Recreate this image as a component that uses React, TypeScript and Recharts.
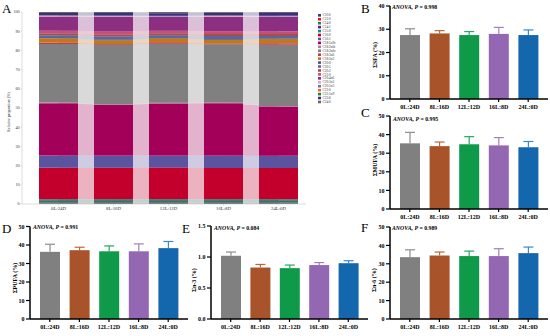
import React from 'react';
import { ComposedChart, BarChart, Bar, Area, XAxis, YAxis } from 'recharts';

const SERIF = '"Liberation Serif", "Times New Roman", serif';

const groups = ['0L:24D', '8L:16D', '12L:12D', '16L:8D', '24L:0D'];

const fattyAcids = [
  'C10:0', 'C12:0', 'C14:0', 'C14:1', 'C15:0', 'C16:0', 'C16:1', 'C18:1n9c',
  'C18:2n6t', 'C18:2n6c', 'C18:3n6', 'C18:3n3', 'C20:0', 'C20:1', 'C20:2',
  'C21:0', 'C20:4n6', 'C20:3n3', 'C20:5n3', 'C22:0', 'C22:1n9', 'C22:6', 'C24:0',
];

const faColors = [
  '#2f3f8f', '#e8131b', '#12894a', '#6a1b8a', '#138a8a', '#c2002b', '#5c539f', '#a3005a',
  '#b07a9a', '#808080', '#c43a52', '#c07818', '#4b5878', '#5865a8', '#a45044',
  '#c4507a', '#8c2f80', '#e2a6c4', '#6a78a8', '#e0701e', '#2c7a3c', '#3e2c8c', '#5e6e5e',
];

// relative proportion (%) per group, in fattyAcids order
const comp0L24D = [0.4, 0.2, 1.2, 0.3, 0.4, 16.4, 6.3, 27.3, 0.3, 30.5, 0.8, 2.2, 0.2, 1.4, 1.0, 1.3, 7.4, 0.3, 0.2, 0.1, 0.1, 1.2, 0.5];
const comp8L16D = [0.4, 0.2, 1.2, 0.3, 0.4, 16.4, 6.4, 26.2, 0.3, 31.2, 0.3, 2.0, 0.3, 1.6, 1.0, 1.6, 7.6, 0.4, 0.2, 0.1, 0.1, 1.3, 0.5];
const comp12L12D = [0.4, 0.2, 1.2, 0.3, 0.4, 16.5, 6.3, 27.1, 0.3, 30.8, 0.7, 2.1, 0.2, 1.4, 1.0, 1.3, 7.2, 0.3, 0.2, 0.1, 0.1, 1.3, 0.6];
const comp16L8D = [0.4, 0.2, 1.2, 0.3, 0.4, 16.3, 6.4, 27.3, 0.3, 30.4, 0.4, 2.0, 0.3, 1.6, 1.0, 1.5, 7.5, 0.4, 0.2, 0.1, 0.1, 1.3, 0.4];
const comp24L0D = [0.4, 0.2, 1.2, 0.3, 0.4, 16.2, 6.4, 25.7, 0.3, 31.9, 0.7, 2.2, 0.2, 1.4, 1.0, 1.4, 7.5, 0.3, 0.2, 0.1, 0.1, 1.4, 0.5];

const sfaMean = [27.5, 28.2, 27.5, 28.0, 27.5];
const sfaSd = [2.7, 1.2, 1.5, 2.8, 2.2];
const mufaMean = [35.3, 33.8, 34.8, 34.2, 33.2];
const mufaSd = [5.9, 2.2, 4.1, 4.2, 3.1];
const pufaMean = [36.3, 37.2, 36.6, 36.6, 38.3];
const pufaSd = [4.1, 1.6, 2.9, 4.0, 3.6];
const n3Mean = [1.02, 0.83, 0.82, 0.87, 0.9];
const n3Sd = [0.06, 0.05, 0.05, 0.04, 0.04];
const n6Mean = [33.6, 34.5, 34.2, 34.2, 35.8];
const n6Sd = [4.0, 1.9, 2.7, 4.0, 3.3];

const barColors = ['#808080', '#a8532a', '#0f9a4a', '#9467b3', '#1466ad'];
const errColors = ['#8e8e8e', '#b9663e', '#26a85e', '#a27fc2', '#3a88cf'];

const compRows = [comp0L24D, comp8L16D, comp12L12D, comp16L8D, comp24L0D];
const stackData = groups.map((g, gi) => {
  const row: Record<string, any> = { group: g };
  fattyAcids.forEach((fa, i) => { row[fa] = compRows[gi][i]; });
  return row;
});

const toRows = (mean: number[], sd: number[]) => groups.map((g, i) => ({ group: g, mean: mean[i], sd: sd[i] }));

const MeanSdBar = (props: any) => {
  const { x, y, width, height, index, payload } = props;
  if (!payload || !height) return null;
  const unit = height / payload.mean;
  const top = y - payload.sd * unit;
  const cx = x + width / 2;
  return (
    <g>
      <rect x={x} y={y} width={width} height={height} fill={barColors[index]} />
      <line x1={cx} x2={cx} y1={y} y2={top} stroke={errColors[index]} strokeWidth={1.2} />
      <line x1={cx - 5} x2={cx + 5} y1={top} y2={top} stroke={errColors[index]} strokeWidth={1.2} />
    </g>
  );
};

type PanelProps = {
  left: number;
  top: number;
  marginTop: number;
  yWidth: number;
  data: { group: string; mean: number; sd: number }[];
  domain: [number, number];
  ticks: number[];
  fmt?: (v: number) => string;
};

const StatPanel = ({ left, top, marginTop, yWidth, data, domain, ticks, fmt }: PanelProps) => (
  <div style={{ position: 'absolute', left, top }}>
    <BarChart width={190} height={115} data={data} margin={{ top: marginTop, right: 2, bottom: 0, left: 0 }}>
      <XAxis
        dataKey="group"
        height={16}
        interval={0}
        padding={{ left: 5, right: 5 }}
        axisLine={{ stroke: '#000', strokeWidth: 1.5 }}
        tickLine={{ stroke: '#000', strokeWidth: 1.2 }}
        tickSize={3}
        tickMargin={3}
        tick={{ fontSize: 6, fontWeight: 'bold', fill: '#000', fontFamily: SERIF }}
      />
      <YAxis
        width={yWidth}
        domain={domain}
        ticks={ticks}
        interval={0}
        tickFormatter={fmt}
        axisLine={{ stroke: '#000', strokeWidth: 1.5 }}
        tickLine={{ stroke: '#000', strokeWidth: 1.2 }}
        tickSize={4}
        tickMargin={1.5}
        tick={{ fontSize: 6, fontWeight: 'bold', fill: '#000', fontFamily: SERIF }}
      />
      <Bar dataKey="mean" barSize={20} shape={MeanSdBar} isAnimationActive={false} />
    </BarChart>
  </div>
);

const Anova = ({ x, y, p }: { x: number; y: number; p: string }) => (
  <text x={x} y={y} fontSize={5.8} fontWeight="bold" fontFamily={SERIF} fill="#000">
    <tspan fontStyle="italic">ANOVA, P</tspan> = {p}
  </text>
);

const YLabel = ({ x, y, text }: { x: number; y: number; text: string }) => (
  <text x={x} y={y} transform={`rotate(-90 ${x} ${y})`} textAnchor="middle" fontSize={6} fontWeight="bold" fontFamily={SERIF} fill="#000">
    {text}
  </text>
);

const Letter = ({ x, y, t }: { x: number; y: number; t: string }) => (
  <text x={x} y={y} fontSize={13} fontFamily={SERIF} fill="#000">{t}</text>
);

export default function App() {
  return (
    <div style={{ position: 'absolute', left: 0, top: 0, width: 550, height: 336, background: '#fff', overflow: 'hidden' }}>
      <div style={{ position: 'absolute', left: 0, top: 0 }}>
        <ComposedChart width={310} height={215} data={stackData} margin={{ top: 12, right: 4, bottom: 0, left: 0 }}>
          <XAxis
            dataKey="group"
            height={11}
            interval={0}
            padding={{ left: 9, right: 0 }}
            axisLine={{ stroke: '#c8c8c8', strokeWidth: 0.6 }}
            tickLine={{ stroke: '#c8c8c8', strokeWidth: 0.6 }}
            tickSize={1.5}
            tickMargin={1}
            tick={{ fontSize: 4.8, fill: '#333', fontFamily: SERIF }}
          />
          <YAxis
            width={22}
            domain={[0, 100]}
            ticks={[0, 10, 20, 30, 40, 50, 60, 70, 80, 90, 100]}
            interval={0}
            axisLine={{ stroke: '#c8c8c8', strokeWidth: 0.6 }}
            tickLine={{ stroke: '#c8c8c8', strokeWidth: 0.6 }}
            tickSize={1.5}
            tickMargin={0.8}
            tick={{ fontSize: 4.2, fill: '#333', fontFamily: SERIF }}
          />
          {fattyAcids.map((fa, i) => (
            <Area
              key={'a' + fa}
              dataKey={fa}
              stackId="band"
              type="linear"
              stroke="none"
              fill={faColors[i]}
              fillOpacity={0.3}
              isAnimationActive={false}
            />
          ))}
          {fattyAcids.map((fa, i) => (
            <Bar key={'b' + fa} dataKey={fa} stackId="bar" fill={faColors[i]} barSize={39} isAnimationActive={false} />
          ))}
        </ComposedChart>
      </div>

      <StatPanel left={360} top={0} marginTop={6} yWidth={30} data={toRows(sfaMean, sfaSd)} domain={[0, 40]} ticks={[0, 10, 20, 30, 40]} />
      <StatPanel left={360} top={110} marginTop={6} yWidth={30} data={toRows(mufaMean, mufaSd)} domain={[0, 50]} ticks={[0, 10, 20, 30, 40, 50]} />
      <StatPanel left={0} top={220} marginTop={6.5} yWidth={30} data={toRows(pufaMean, pufaSd)} domain={[0, 50]} ticks={[0, 10, 20, 30, 40, 50]} />
      <StatPanel left={180} top={220} marginTop={6} yWidth={31} data={toRows(n3Mean, n3Sd)} domain={[0, 1.5]} ticks={[0, 0.5, 1, 1.5]} fmt={(v) => v.toFixed(1)} />
      <StatPanel left={360} top={220} marginTop={7} yWidth={30} data={toRows(n6Mean, n6Sd)} domain={[0, 50]} ticks={[0, 10, 20, 30, 40, 50]} />

      <svg width={550} height={336} style={{ position: 'absolute', left: 0, top: 0, pointerEvents: 'none' }}>
        <Letter x={2} y={13} t="A" />
        <text x={10} y={112} transform="rotate(-90 10 112)" textAnchor="middle" fontSize={4.2} fontFamily={SERIF} fill="#333">
          Relative proportion (%)
        </text>
        {fattyAcids.map((fa, i) => (
          <g key={'lg' + fa}>
            <rect x={318} y={14 + i * 3.94} width={3} height={2.6} fill={faColors[i]} />
            <text x={322.5} y={16.4 + i * 3.94} fontSize={3.4} fontFamily={SERIF} fill="#333">{fa}</text>
          </g>
        ))}

        <Letter x={361} y={13} t="B" />
        <Anova x={392} y={9} p="0.998" />
        <YLabel x={377} y={55} text="ΣSFA (%)" />

        <Letter x={361} y={117} t="C" />
        <Anova x={393} y={121} p="0.995" />
        <YLabel x={377} y={160} text="ΣMUFA (%)" />

        <Letter x={2} y={233} t="D" />
        <Anova x={33} y={229} p="0.991" />
        <YLabel x={17} y={278} text="ΣPUFA (%)" />

        <Letter x={182} y={233} t="E" />
        <Anova x={214} y={229.5} p="0.084" />
        <YLabel x={196} y={280} text="Σn-3 (%)" />

        <Letter x={361} y={232} t="F" />
        <Anova x={392} y={229.5} p="0.989" />
        <YLabel x={376} y={280} text="Σn-6 (%)" />
      </svg>
    </div>
  );
}
